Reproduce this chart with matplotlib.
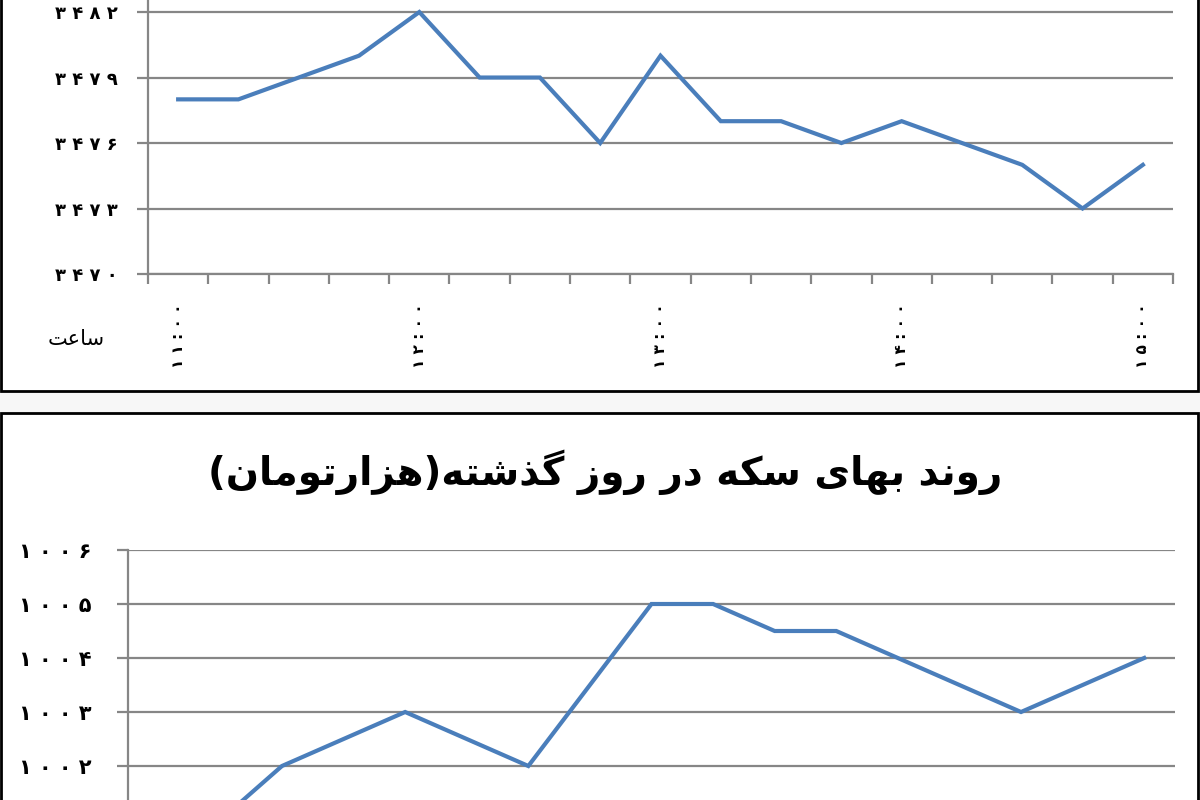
import matplotlib
matplotlib.use("Agg")
import matplotlib.pyplot as plt
from matplotlib.patches import Rectangle

# ---------------- data ----------------
time_labels = ["۱۱:۰۰", "۱۲:۰۰", "۱۳:۰۰", "۱۴:۰۰", "۱۵:۰۰"]   # every 4th point (15-minute steps)
top_values = [3478, 3478, 3479, 3480, 3482, 3479, 3479, 3476, 3480,
              3477, 3477, 3476, 3477, 3476, 3475, 3473, 3475]
bottom_values = [1001, 1001, 1002, 1002.5, 1003, 1002.5, 1002, 1003.5, 1005,
                 1005, 1004.5, 1004.5, 1004, 1003.5, 1003, 1003.5, 1004]
top_yticks = [3470, 3473, 3476, 3479, 3482]
bottom_yticks = [1002, 1003, 1004, 1005, 1006]
title_text = "روند بهای سکه در روز گذشته(هزارتومان)"
xlabel_text = "ساعت"

# ------------- minimal Persian shaping -------------
FORMS = {  # isolated, final, initial, medial
    "ا": ("\uFE8D", "\uFE8E", None, None),
    "ب": ("\uFE8F", "\uFE90", "\uFE91", "\uFE92"),
    "ت": ("\uFE95", "\uFE96", "\uFE97", "\uFE98"),
    "د": ("\uFEA9", "\uFEAA", None, None),
    "ذ": ("\uFEAB", "\uFEAC", None, None),
    "ر": ("\uFEAD", "\uFEAE", None, None),
    "ز": ("\uFEAF", "\uFEB0", None, None),
    "س": ("\uFEB1", "\uFEB2", "\uFEB3", "\uFEB4"),
    "ش": ("\uFEB5", "\uFEB6", "\uFEB7", "\uFEB8"),
    "ع": ("\uFEC9", "\uFECA", "\uFECB", "\uFECC"),
    "م": ("\uFEE1", "\uFEE2", "\uFEE3", "\uFEE4"),
    "ن": ("\uFEE5", "\uFEE6", "\uFEE7", "\uFEE8"),
    "ه": ("\uFEE9", "\uFEEA", "\uFEEB", "\uFEEC"),
    "و": ("\uFEED", "\uFEEE", None, None),
    "ک": ("\uFB8E", "\uFB8F", "\uFB90", "\uFB91"),
    "گ": ("\uFB92", "\uFB93", "\uFB94", "\uFB95"),
    "ی": ("\uFBFC", "\uFBFD", "\uFBFE", "\uFBFF"),
}


def dual(ch):
    return ch in FORMS and FORMS[ch][2] is not None


def persian(text):
    out = []
    for i, ch in enumerate(text):
        if ch not in FORMS:
            out.append(ch)
            continue
        prev = text[i - 1] if i > 0 else ""
        nxt = text[i + 1] if i + 1 < len(text) else ""
        jp = dual(prev)
        jn = dual(ch) and nxt in FORMS
        iso, fin, ini, med = FORMS[ch]
        if jp and jn:
            out.append(med)
        elif jp:
            out.append(fin)
        elif jn:
            out.append(ini)
        else:
            out.append(iso)
    vis = "".join(out)[::-1]
    return vis.translate(str.maketrans({"(": ")", ")": "("}))


PDIG = str.maketrans("0123456789", "۰۱۲۳۴۵۶۷۸۹")


def pnum(v):
    return " ".join(str(v).translate(PDIG))


def spaced(s):
    return " ".join(s)


LINE = "#4A7EBB"
GRID = "#868686"

plt.rcParams["font.family"] = ["DejaVu Sans"]
fig = plt.figure(figsize=(12, 8), dpi=100, facecolor="#f7f7f7")

# panel frames (cropped screenshot: they extend beyond the canvas)
fig.patches.append(Rectangle((1 / 1200, 1 - 391 / 800), 1197 / 1200, 0.8,
                             transform=fig.transFigure, facecolor="white",
                             edgecolor="black", lw=2, zorder=-5))
fig.patches.append(Rectangle((1 / 1200, -0.3), 1197 / 1200, 0.3 + 1 - 413 / 800,
                             transform=fig.transFigure, facecolor="white",
                             edgecolor="black", lw=2, zorder=-5))


def style_axes(ax, values, yticks, ylim, ypad, yfs, show_xlabels):
    x = list(range(len(values)))
    ax.set_facecolor("none")
    ax.plot(x, values, color=LINE, lw=3, solid_joinstyle="miter", zorder=3)
    ax.set_xlim(-0.5, len(values) - 0.5)
    ax.set_ylim(*ylim)
    ax.set_yticks(yticks)
    ax.set_yticklabels([pnum(v) for v in yticks], fontsize=yfs, fontweight="bold")
    ax.yaxis.grid(True, color=GRID, lw=1.6)
    ax.set_axisbelow(True)
    for s in ("top", "right"):
        ax.spines[s].set_visible(False)
    for s in ("left", "bottom"):
        ax.spines[s].set_color(GRID)
        ax.spines[s].set_linewidth(1.6)
    ax.set_xticks([i - 0.5 for i in range(len(values) + 1)])
    ax.set_xticklabels([])
    if show_xlabels:
        ax.set_xticks([0, 4, 8, 12, 16], minor=True)
        ax.set_xticklabels([spaced(t) for t in time_labels], minor=True,
                           rotation=90, fontsize=11, fontweight="bold")
        ax.tick_params(axis="x", which="minor", length=0, pad=21)
    ax.tick_params(axis="x", which="major", direction="out", length=7,
                   width=1.6, color=GRID)
    ax.tick_params(axis="y", direction="out", length=8, width=1.6,
                   color=GRID, pad=ypad)


# top chart
ax1 = fig.add_axes([148 / 1200, 1 - 274 / 800, 1025 / 1200, 15 * 21.83 / 800])
style_axes(ax1, top_values, top_yticks, (3470, 3485), 14, 13, True)

# bottom chart
ax2 = fig.add_axes([128 / 1200, 1 - 550 / 800 - 6 * 54 / 800, 1047 / 1200, 6 * 54 / 800])
style_axes(ax2, bottom_values, bottom_yticks, (1000, 1006), 18, 15, False)

fig.text(76 / 1200, 1 - 339 / 800, persian(xlabel_text), ha="center",
         va="center", fontsize=15)
fig.text(605 / 1200, 1 - 472 / 800, persian(title_text), ha="center",
         va="center", fontsize=28, fontweight="bold")

fig.savefig("out.png", dpi=100, facecolor=fig.get_facecolor())
